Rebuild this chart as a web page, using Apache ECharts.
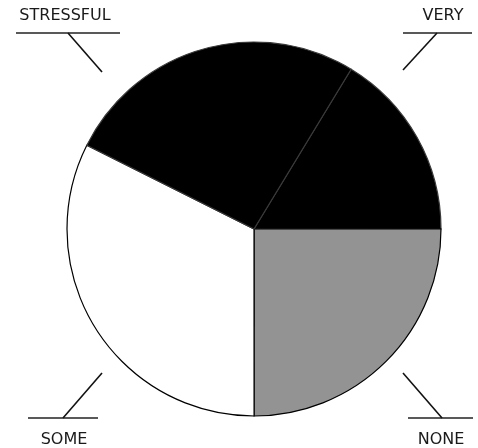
<!DOCTYPE html>
<html>
<head>
<meta charset="utf-8">
<script src="https://cdn.jsdelivr.net/npm/echarts@6/dist/echarts.min.js"></script>
<style>html,body{margin:0;padding:0;background:#fff}#c{width:478px;height:448px}</style>
</head>
<body>
<div id="c"></div>
<script>
// Data (percent shares), in clockwise order from the VERY/STRESSFUL divider
const categories = ['VERY', 'NONE', 'SOME', 'STRESSFUL'];
const values = [16.3, 25.0, 32.4, 26.3];
const fills = ['#000000', '#939393', '#ffffff', '#000000'];

// Annotation layout (style only): label centre, underline span, leader line
const annot = {
  VERY:      { tx: 443, ty: 16,  ux1: 403, ux2: 472, uy: 33,  lx1: 437, ly1: 33,  lx2: 403, ly2: 70 },
  NONE:      { tx: 441, ty: 440, ux1: 408, ux2: 473, uy: 418, lx1: 442, ly1: 418, lx2: 403, ly2: 373 },
  SOME:      { tx: 64,  ty: 440, ux1: 28,  ux2: 98,  uy: 418, lx1: 63,  ly1: 418, lx2: 102, ly2: 373 },
  STRESSFUL: { tx: 65,  ty: 16,  ux1: 16,  ux2: 120, uy: 33,  lx1: 68,  ly1: 33,  lx2: 102, ly2: 72 }
};

const graphics = [];
categories.forEach(function (name) {
  const a = annot[name];
  graphics.push({
    type: 'text', x: a.tx, y: a.ty,
    style: { text: name, fill: '#1a1a1a', font: '500 16px "DejaVu Sans"', align: 'center', verticalAlign: 'middle' }
  });
  graphics.push({
    type: 'line', shape: { x1: a.ux1, y1: a.uy, x2: a.ux2, y2: a.uy },
    style: { stroke: '#222', lineWidth: 1.5 }
  });
  graphics.push({
    type: 'line', shape: { x1: a.lx1, y1: a.ly1, x2: a.lx2, y2: a.ly2 },
    style: { stroke: '#111', lineWidth: 1.6 }
  });
});

const chart = echarts.init(document.getElementById('c'), null, { renderer: 'canvas' });
chart.setOption({
  animation: false,
  backgroundColor: '#ffffff',
  graphic: graphics,
  series: [{
    type: 'pie',
    center: [254, 229],
    radius: 187,
    startAngle: 58.7,
    clockwise: true,
    silent: true,
    label: { show: false },
    labelLine: { show: false },
    data: categories.map(function (n, i) {
      return {
        name: n,
        value: values[i],
        itemStyle: {
          color: fills[i],
          borderColor: fills[i] === '#000000' ? '#3a3a3a' : '#000000',
          borderWidth: 1.2
        }
      };
    })
  }]
});
</script>
</body>
</html>
